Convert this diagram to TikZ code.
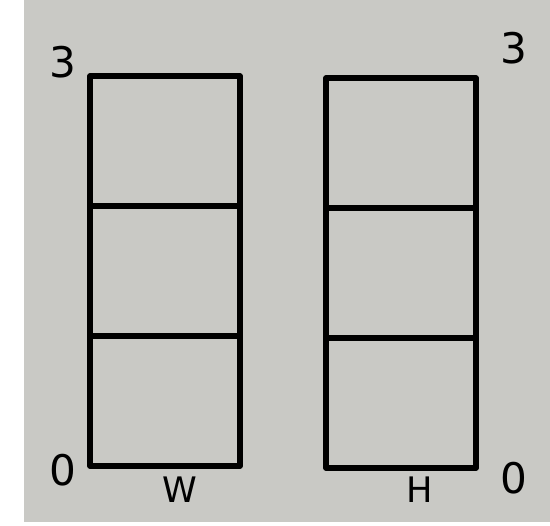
\documentclass[tikz,border=0pt]{standalone}
\usepackage{fontspec}
\setmainfont{DejaVu Sans}
\usetikzlibrary{positioning}
\definecolor{paper}{RGB}{201,201,197}

\begin{document}
\begin{tikzpicture}[x=0.02cm, y=0.02cm, line join=round,
    cell/.style={draw, line width=3pt, minimum width=3cm, minimum height=2.6cm, inner sep=0pt, outer sep=0pt},
    numlbl/.style={font=\fontsize{24}{24}\selectfont, inner sep=0pt},
    axislbl/.style={font=\fontsize{20}{20}\selectfont, inner sep=0pt}]
    % Paper
    \useasboundingbox (0,0) rectangle (550,526);
    \fill[white] (0,0) rectangle (550,526);
    \fill[paper] (24,4) rectangle (550,526);

    % W column
    \node[cell] (w1) at (165,125) {};
    \node[cell, above=0pt of w1] (w2) {};
    \node[cell, above=0pt of w2] (w3) {};

    % H column
    \node[cell] (h1) at (401,123) {};
    \node[cell, above=0pt of h1] (h2) {};
    \node[cell, above=0pt of h2] (h3) {};

    % Labels
    \node[numlbl] (wtop) at ([shift={(-27,14)}]w3.north west) {3};
    \node[numlbl] (wbot) at ([shift={(-27,-4)}]w1.south west) {0};
    \node[numlbl] (htop) at ([shift={(38,30)}]h3.north east) {3};
    \node[numlbl] (hbot) at ([shift={(38,-10)}]h1.south east) {0};
    \node[axislbl] (wname) at ([shift={(15,-24)}]w1.south) {W};
    \node[axislbl] (hname) at ([shift={(19,-22)}]h1.south) {H};
\end{tikzpicture}
\end{document}
